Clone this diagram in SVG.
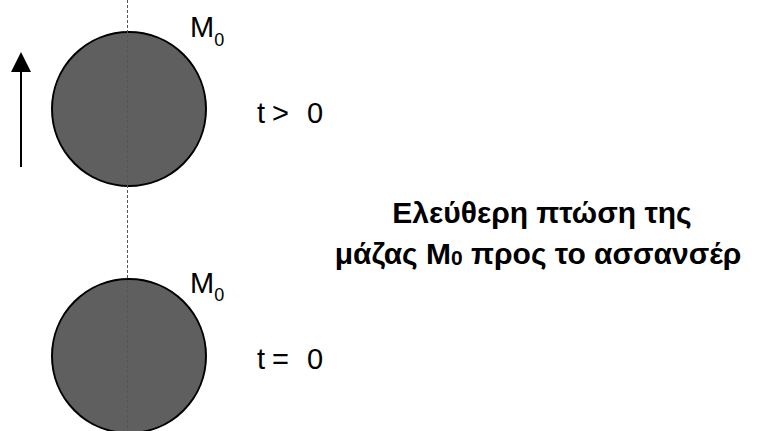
<svg xmlns="http://www.w3.org/2000/svg" width="780" height="431" viewBox="0 0 780 431">
<defs>
<style>
.ball{fill:#5f5f5f;stroke:#000;stroke-width:2}
.lbl{font-family:"Liberation Sans",Arial,sans-serif;font-size:29px;fill:#000}
.sub{font-size:18px}
.title{font-family:"Liberation Sans",Arial,sans-serif;font-size:30px;font-weight:bold;fill:#000;text-anchor:middle}
.axis{stroke:#555;stroke-width:1;stroke-dasharray:3 2;fill:none}
</style>
</defs>
<rect width="780" height="431" fill="#fff"/>
<g id="ball-top">
<circle class="ball" cx="129" cy="109" r="77"/>
<text class="lbl" x="190" y="37">M<tspan class="sub" dy="9">0</tspan></text>
</g>
<g id="ball-bottom">
<circle class="ball" cx="129" cy="356" r="77"/>
<text class="lbl" x="190" y="293">M<tspan class="sub" dy="8">0</tspan></text>
</g>
<g id="label-t-gt">
<text class="lbl" x="257" y="123">t<tspan x="272">&gt;</tspan><tspan x="307">0</tspan></text>
</g>
<g id="label-t-eq">
<text class="lbl" x="257" y="369">t<tspan x="272">=</tspan><tspan x="307">0</tspan></text>
</g>
<g id="title">
<text class="title" x="542" y="223">Ελεύθερη πτώση της</text>
<text class="title" x="538" y="264">μάζας M<tspan font-size="21" dy="1">0</tspan><tspan dy="-1"> προς το ασσανσέρ</tspan></text>
</g>
<g id="connectors">
<line class="axis" x1="127.5" y1="0" x2="127.5" y2="431"/>
<line x1="21" y1="167" x2="21" y2="72" stroke="#000" stroke-width="2"/>
<polygon points="21,52 11,72 31,72" fill="#000"/>
</g>
</svg>
